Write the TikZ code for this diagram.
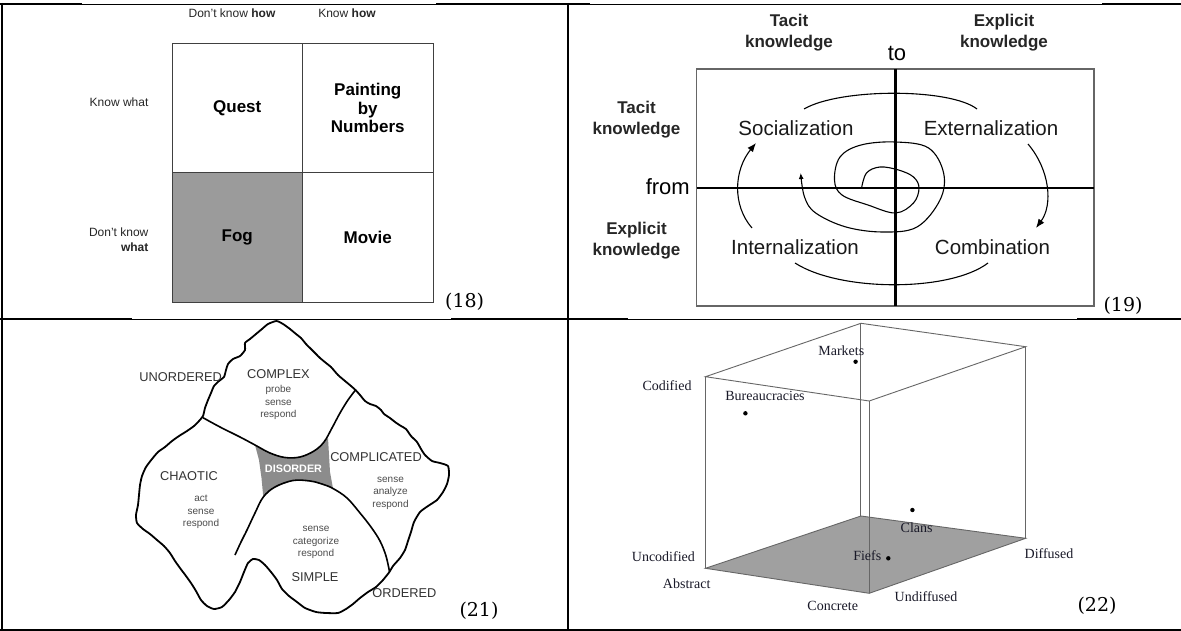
\documentclass[tikz,border=0pt]{standalone}
\usepackage{fontspec}
\setmainfont{Liberation Sans}
\newfontfamily\lserif{Liberation Serif}
\newfontfamily\numfont{DejaVu Serif}
\usetikzlibrary{arrows.meta}
\definecolor{foggray}{RGB}{155,155,155}
\definecolor{disgray}{RGB}{140,140,140}
\definecolor{floorgray}{RGB}{160,160,160}
\definecolor{navy}{RGB}{25,25,40}
\begin{document}
\begin{tikzpicture}[x=1pt,y=-1pt,
  tabthick/.style={line width=2pt},
  tabthin/.style={line width=0.9pt},
  numlbl/.style={font=\numfont\fontsize{19}{22}\selectfont, inner sep=0},
  smalltxt/.style={font=\fontsize{12}{15}\selectfont, text=black!85, inner sep=0, align=right},
  cell/.style={draw=black!75, line width=0.9pt, minimum width=130.5pt, minimum height=129.5pt, inner sep=0,
     font=\bfseries\fontsize{17}{18.5}\selectfont, align=center},
  ax/.style={font=\bfseries\fontsize{17}{21}\selectfont, text=black!85, inner sep=0, align=center},
  mode/.style={font=\fontsize{20.5}{24}\selectfont, text=black!90, inner sep=0},
  arc/.style={line width=1.1pt},
  cap3/.style={font=\fontsize{12.8}{15}\selectfont, text=black!80, inner sep=0},
  sub3/.style={font=\fontsize{10}{12.6}\selectfont, text=black!70, inner sep=0, align=center},
  cube/.style={draw=black!60, line width=0.9pt},
  tlbl/.style={font=\lserif\fontsize{14}{16}\selectfont, text=navy, inner sep=0},
  dot/.style={fill=black}
]
\useasboundingbox (0,0) rectangle (1181,631);
\fill[white] (0,0) rectangle (1181,631);

% ---------------- table frame ----------------
\draw[tabthick] (2,3) -- (2,630);
\draw[tabthick] (568,3) -- (568,630);
\draw[tabthick] (0,629.5) -- (1181,629.5);
\draw[tabthick] (0,4) -- (82,4);
\draw[tabthin]  (82,4) -- (436,4);
\draw[tabthick] (436,4) -- (590,4);
\draw[tabthin]  (590,4) -- (1102,4);
\draw[tabthick] (1102,4) -- (1181,4);
\draw[tabthick] (0,319) -- (132,319);
\draw[tabthin]  (132,319) -- (451,319);
\draw[tabthick] (451,319) -- (628,319);
\draw[tabthin]  (628,319) -- (1077,319);
\draw[tabthick] (1077,319) -- (1181,319);

% ---------------- panel (18) ----------------
\node[smalltxt, align=center] (dkh) at (232,13) {Don't know \textbf{how}};
\node[smalltxt, align=center] (kh) at (347,13) {Know \textbf{how}};
\node[smalltxt, anchor=east] (kw) at (148.6,102) {Know what};
\node[smalltxt, anchor=east] (dkw) at (148.6,239.5) {Don't know\\\textbf{what}};
\node[cell] (quest) at (237.25,108) {Quest};
\node[cell] (paint) at (367.75,108) {Painting\\by\\Numbers};
\node[cell, fill=foggray] (fog) at (237.25,237.5) {Fog};
\node[cell] (movie) at (367.75,237.5) {Movie};
\node[numlbl] (l18) at (464.6,302) {(18)};

% ---------------- panel (19) ----------------
\node[ax] (tacitT) at (789,32.5) {Tacit\\knowledge};
\node[ax] (explT) at (1004,32.5) {Explicit\\knowledge};
\node[font=\fontsize{22}{24}\selectfont, inner sep=0] (to) at (897,53) {to};
\node[font=\fontsize{22}{24}\selectfont, inner sep=0, anchor=east] (from) at (690,187) {from};
\node[ax] (tacitL) at (636.5,119.5) {Tacit\\knowledge};
\node[ax] (explL) at (636.5,241) {Explicit\\knowledge};
\draw[draw=black!60, line width=1.4pt] (696.5,69) rectangle (1094,306);
\draw[line width=2.3pt] (895.5,69) -- (895.5,306);
\draw[line width=2.3pt] (696.5,188) -- (1094,188);
\node[mode] (soc) at (796,128) {Socialization};
\node[mode] (ext) at (991,128) {Externalization};
\node[mode] (int) at (795,247) {Internalization};
\node[mode] (com) at (992.5,247) {Combination};
\coordinate (ta1) at (804,109); \coordinate (ta2) at (977,109);
\coordinate (ba1) at (795,263); \coordinate (ba2) at (988,263);
\coordinate (ra1) at (1028,144); \coordinate (ra2) at (1036,228);
\coordinate (la1) at (752,228); \coordinate (la2) at (756,143);
\draw[arc] (ta1) .. controls (840,88) and (950,88) .. (ta2);
\draw[arc] (ba1) .. controls (840,292) and (950,292) .. (ba2);
\draw[arc, -{Latex[length=9pt,width=7pt]}] (ra1) .. controls (1050,170) and (1053,205) .. (ra2);
\draw[arc, -{Latex[length=9pt,width=7pt]}] (la1) .. controls (732,205) and (734,170) .. (la2);
\draw[arc, -{Latex[length=6pt,width=5pt]}] plot[smooth, tension=0.6] coordinates {
 (861.6,188) (866.5,173) (880,167) (898.5,170) (913.5,177) (919,188) (913.5,203) (895.5,213)
 (868,205) (842,195) (834.5,180) (840,157) (861,145) (895.5,142) (928.6,148) (943.6,173)
 (940,200) (917,227) (883,232) (846,227) (815.7,213) (804.5,197) (800.7,173)};
\node[numlbl] (l19) at (1123,306) {(19)};

% ---------------- panel (21) ----------------
\fill[disgray] (255,445) -- (270,453) -- (285,457.5) -- (300,457) -- (314,451) -- (324,442) -- (328,438)
  -- (329,455) -- (330,472) -- (333,488.5) -- (322,484) -- (310,481) -- (293,480.5) -- (275,487)
  -- (263.3,497) -- (261.5,478) -- (259,460) -- cycle;
\draw[line width=1.8pt, line join=round] plot[smooth cycle, tension=0.35] coordinates {
 (276.5,321) (283,324) (290,329) (296,334) (301,338) (306,344) (311,349) (316,354) (320,358)
 (326,363) (331,367) (338,375) (345,381) (351,386) (355.5,390) (360,395) (365,401) (370,404)
 (376,406) (381,410) (384,414) (390,418) (395,422) (401,426) (406,429) (411,436) (417,442)
 (421,449) (425,455) (432,461) (440,463) (448,466) (449,475) (447,484) (443,492) (437,500)
 (428,506) (420,512) (414,522) (411,532) (408,541) (405,550) (400,558) (393,566) (389.4,572)
 (383,580) (376,587) (368,592) (360,598) (353,604) (346,609) (338,613) (326,613) (316,612)
 (305,608) (297,602) (289,596) (282,589) (277,580) (271,572) (265,565) (259,560) (253,559)
 (248,563) (244,572) (240,582) (235,592) (229,600) (222,607) (214,609) (207,606) (201,600)
 (196,591) (191,583) (186,576) (180,568) (175,561) (170,553) (164,546) (157,540) (150,534)
 (143,529) (137,523) (136,515) (138,505) (139,495) (140,485) (142,476) (146,467) (152,459)
 (158,452) (165,447) (172,441) (179,436) (187,431) (194,426) (199,421) (203,416) (205,408)
 (208,400) (211,393) (214,386) (219,381) (224,377) (226,370) (228,364) (233,359) (240,356)
 (245,350) (245,343) (250,339) (256,334) (262,329) (268,324)};
\draw[line width=1.6pt] plot[smooth, tension=0.6] coordinates {
 (203,417.7) (220,427) (240,437) (255,445) (270,453) (285,457.5) (300,457) (314,451) (324,442)
 (332,428) (340,413) (348,400) (355.5,390)};
\draw[line width=1.6pt] plot[smooth, tension=0.6] coordinates {
 (235,555) (241,542) (247,530) (255,513) (263.3,497) (275,487) (293,480.5) (310,481) (322,484)
 (333,488.5) (347,498) (360,513) (371,527) (380,541) (386,556) (389.5,571.7)};
\node[cap3] (unord) at (180.6,377) {UNORDERED};
\node[cap3] (cplx) at (278.4,374) {COMPLEX};
\node[sub3] (cplxs) at (278.4,402.7) {probe\\sense\\respond};
\node[cap3] (cpld) at (376,457) {COMPLICATED};
\node[sub3] (cplds) at (390.5,493.3) {sense\\analyze\\respond};
\node[cap3] (chao) at (189,475.7) {CHAOTIC};
\node[sub3] (chaos) at (201,512) {act\\sense\\respond};
\node[sub3] (simps) at (316,542.7) {sense\\categorize\\respond};
\node[cap3] (simp) at (315,576.7) {SIMPLE};
\node[cap3] (ord) at (404.4,593.3) {ORDERED};
\node[font=\bfseries\fontsize{10.8}{12}\selectfont, text=white, inner sep=0] (dis) at (293.5,469) {DISORDER};
\node[numlbl] (l21) at (479,610.5) {(21)};

% ---------------- panel (22) ----------------
\coordinate (A) at (705.5,376.7);
\coordinate (Ab) at (705.5,568.3);
\coordinate (B) at (860.9,323.3);
\coordinate (Bb) at (860.9,516);
\coordinate (C) at (1025.7,346.7);
\coordinate (Cb) at (1025.7,538.3);
\coordinate (D) at (869.2,401);
\coordinate (Db) at (869.2,593.3);
\fill[floorgray] (Ab) -- (Bb) -- (Cb) -- (Db) -- cycle;
\draw[cube] (A) -- (B) -- (C) -- (D) -- cycle;
\draw[cube] (Ab) -- (Bb) -- (Cb) -- (Db) -- cycle;
\draw[cube] (A) -- (Ab);
\draw[cube] (B) -- (Bb);
\draw[cube] (C) -- (Cb);
\draw[cube] (D) -- (Db);
\node[tlbl] (mkt) at (841.3,351) {Markets};
\fill[dot] (855.6,361.7) circle (2.2);
\node[tlbl] (cod) at (667,386) {Codified};
\node[tlbl] (bur) at (765,396) {Bureaucracies};
\fill[dot] (745.4,413.3) circle (2.2);
\fill[dot] (912.4,510) circle (2.2);
\node[tlbl] (clans) at (916.6,527.3) {Clans};
\node[tlbl] (fiefs) at (867.3,555.7) {Fiefs};
\fill[dot] (888.3,558.3) circle (2.2);
\node[tlbl] (uncod) at (663.4,556.7) {Uncodified};
\node[tlbl] (abs) at (686.7,583.3) {Abstract};
\node[tlbl] (conc) at (832.7,606) {Concrete};
\node[tlbl] (undif) at (926,596.7) {Undiffused};
\node[tlbl] (dif) at (1049,553.3) {Diffused};
\node[numlbl] (l22) at (1097,606) {(22)};
\end{tikzpicture}
\end{document}
